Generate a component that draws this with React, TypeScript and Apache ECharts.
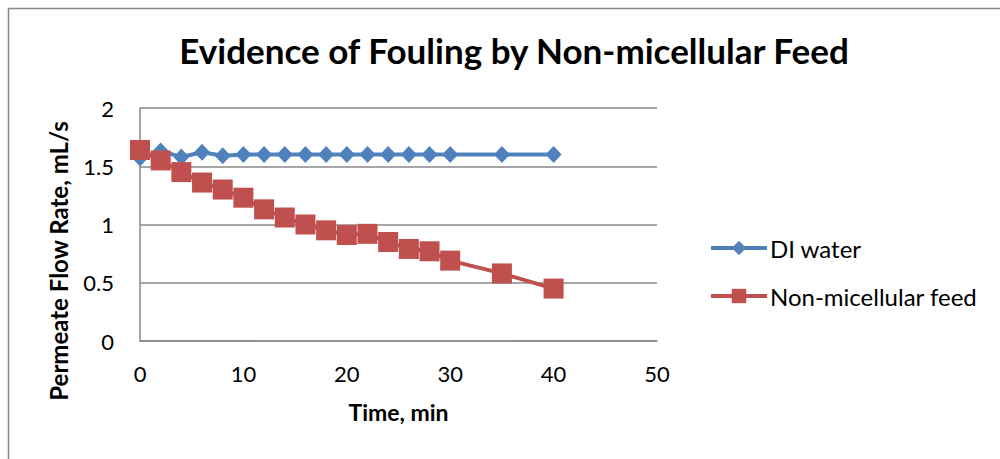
import React, { useEffect, useRef } from "react";
import * as echarts from "echarts";

const diTimes = [0, 2, 4, 6, 8, 10, 12, 14, 16, 18, 20, 22, 24, 26, 28, 30, 35, 40];
const diValues = [1.57, 1.63, 1.58, 1.62, 1.59, 1.6, 1.6, 1.6, 1.6, 1.6, 1.6, 1.6, 1.6, 1.6, 1.6, 1.6, 1.6, 1.6];
const feedTimes = [0, 2, 4, 6, 8, 10, 12, 14, 16, 18, 20, 22, 24, 26, 28, 30, 35, 40];
const feedValues = [1.64, 1.55, 1.45, 1.36, 1.3, 1.23, 1.13, 1.06, 1.0, 0.95, 0.91, 0.92, 0.85, 0.79, 0.77, 0.69, 0.58, 0.45];
const seriesNames = ["DI water", "Non-micellular feed"];
const titleText = "Evidence of Fouling by Non-micellular Feed";
const xTitle = "Time, min";
const yTitle = "Permeate Flow Rate, mL/s";

const FONT = "Lato, 'Noto Sans', sans-serif";

export default function App() {
  const ref = useRef<HTMLDivElement>(null);
  useEffect(() => {
    if (!ref.current) return;
    const chart = echarts.init(ref.current, null, { renderer: "svg" });
    chart.setOption({
      animation: false,
      backgroundColor: "#ffffff",
      textStyle: { fontFamily: FONT },
      title: {
        text: titleText,
        left: 509,
        top: 27,
        textAlign: "center",
        textStyle: { fontFamily: FONT, fontSize: 35, fontWeight: "bold", color: "#000" },
      },
      graphic: [
        { type: "line", shape: { x1: 8, y1: 8.5, x2: 1000, y2: 8.5 }, style: { stroke: "#888", lineWidth: 1.5 } },
        { type: "line", shape: { x1: 8.5, y1: 8, x2: 8.5, y2: 459 }, style: { stroke: "#888", lineWidth: 1.5 } },
        {
          type: "text",
          x: 58,
          y: 261,
          rotation: Math.PI / 2,
          style: {
            text: yTitle,
            fontFamily: FONT,
            fontSize: 24,
            fontWeight: "bold",
            fill: "#000",
            align: "center",
            verticalAlign: "middle",
          },
        },
      ],
      legend: {
        orient: "vertical",
        left: 709,
        top: 236,
        padding: 0,
        itemWidth: 56,
        itemHeight: 18,
        itemGap: 24,
        lineStyle: { width: 4 },
        textStyle: { fontFamily: FONT, fontSize: 24, color: "#000", padding: [0, 0, 0, -2] },
        data: seriesNames,
      },
      grid: { left: 140, right: 343, top: 108, bottom: 118 },
      xAxis: {
        type: "value",
        min: 0,
        max: 50,
        interval: 10,
        name: xTitle,
        nameLocation: "middle",
        nameGap: 59,
        nameTextStyle: { fontFamily: FONT, fontSize: 23, fontWeight: "bold", color: "#000" },
        axisLine: { show: true, lineStyle: { color: "#888", width: 1.5 } },
        axisTick: { show: false },
        splitLine: { show: false },
        axisLabel: { fontFamily: FONT, fontSize: 22, color: "#000", margin: 21 },
      },
      yAxis: {
        type: "value",
        min: 0,
        max: 2,
        interval: 0.5,
        axisLine: { show: true, lineStyle: { color: "#888", width: 1.5 } },
        axisTick: { show: false },
        splitLine: { show: true, lineStyle: { color: "#888", width: 1.5 } },
        axisLabel: { fontFamily: FONT, fontSize: 22, color: "#000", margin: 26 },
      },
      series: [
        {
          name: seriesNames[0],
          type: "line",
          data: diTimes.map((t, i) => [t, diValues[i]]),
          symbol: "diamond",
          symbolSize: [16, 17],
          lineStyle: { color: "#4F81BD", width: 4 },
          itemStyle: { color: "#4F81BD" },
          z: 2,
        },
        {
          name: seriesNames[1],
          type: "line",
          data: feedTimes.map((t, i) => [t, feedValues[i]]),
          symbol: "rect",
          symbolSize: 20,
          lineStyle: { color: "#C0504D", width: 4 },
          itemStyle: { color: "#C0504D" },
          z: 3,
        },
      ],
    });
    return () => chart.dispose();
  }, []);
  return (
    <div
      ref={ref}
      style={{ position: "fixed", left: 0, top: 0, width: 1000, height: 459 }}
    />
  );
}
